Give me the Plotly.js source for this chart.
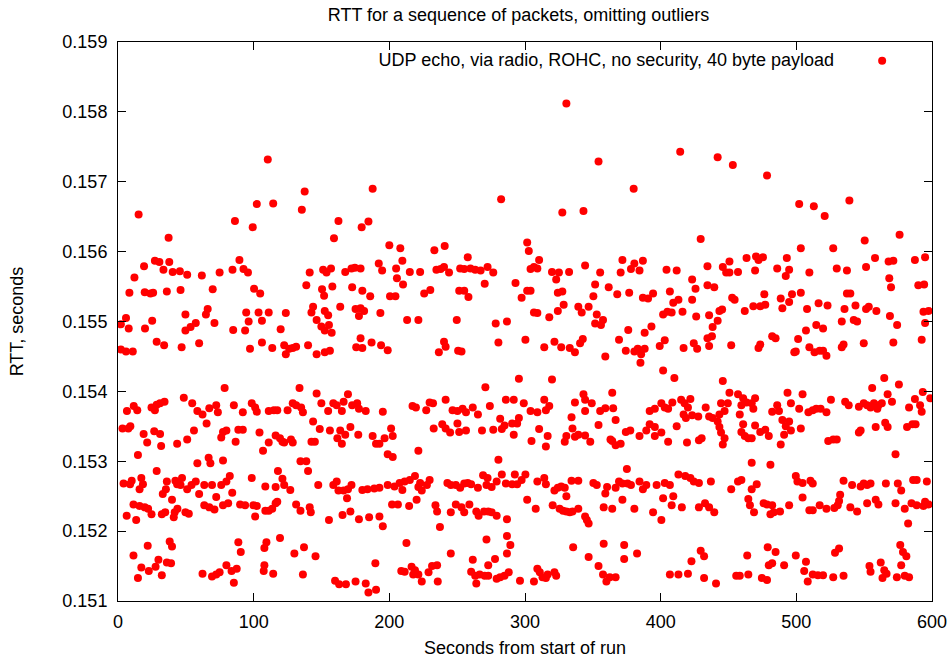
<!DOCTYPE html>
<html>
<head>
<meta charset="utf-8">
<script src="https://cdn.plot.ly/plotly-3.0.1.min.js"></script>
<style>
  html, body { margin: 0; padding: 0; background: #fff; }
  #chart { width: 952px; height: 660px; }
</style>
</head>
<body>
<div id="chart"></div>
<script>
// Chart text
const chartTitle = "RTT for a sequence of packets, omitting outliers";
const xTitle = "Seconds from start of run";
const yTitle = "RTT, seconds";
const seriesName = "UDP echo, via radio, ROHC, no security, 40 byte payload";
const xTicks = [0, 100, 200, 300, 400, 500, 600];
const yTicks = [0.151, 0.152, 0.153, 0.154, 0.155, 0.156, 0.157, 0.158, 0.159];

// Time of each packet (seconds from start of run)
const seconds = [
15.2,37.3,27.2,30.5,37.8,19.2,33.5,40.3,45.6,12.1,8.4,19.7,23.9,25.9,36.0,46.1,5.9,2.1,7.9,25.2,19.9,28.5,34.0,2.1,5.9,10.9,46.9,34.3,31.0,28.5,24.7,11.6,6.6,14.2,27.2,9.1,3.3,7.6,18.9,26.7,31.0,21.5,31.8,43.6,14.7,28.5,4.1,8.9,10.1,17.2,18.4,15.9,36.0,42.3,43.6,46.1,35.3,33.0,39.8,11.4,15.9,19.7,22.2,24.7,32.3,34.8,41.8,43.8,41.1,6.4,13.4,21.9,38.1,39.8,11.4,17.2,22.7,27.7,29.8,36.0,39.1,32.3,14.7,
86.2,89.5,84.4,92.5,95.8,51.0,61.8,74.9,69.8,49.7,64.8,66.1,71.1,94.5,96.3,49.7,53.5,57.3,59.8,84.9,93.7,78.6,48.5,54.7,58.5,62.3,67.3,72.4,73.6,85.4,92.0,65.3,56.0,51.0,77.4,79.9,76.1,88.7,92.0,86.7,66.8,77.4,47.2,51.0,54.2,57.3,58.5,59.8,63.6,68.1,69.3,72.4,76.1,79.9,82.4,84.2,63.6,67.3,71.1,77.4,81.2,90.0,93.7,49.7,52.2,88.7,90.5,62.3,69.3,72.4,74.9,79.9,83.7,87.5,85.4,
110.4,102.3,114.4,137.6,135.5,99.3,141.3,138.8,100.3,104.8,143.8,123.7,103.6,111.1,106.1,119.9,142.6,146.4,97.3,106.1,113.7,122.5,126.2,123.7,128.8,131.3,140.1,146.4,133.8,146.4,98.6,101.1,102.3,111.1,114.9,117.4,125.0,128.8,131.3,135.0,136.3,143.8,104.3,106.9,111.1,116.2,119.4,121.2,122.5,127.5,128.8,142.6,145.1,134.5,138.8,140.1,117.9,121.2,122.5,127.0,147.6,108.6,116.2,98.6,99.8,102.3,101.1,108.6,111.1,113.7,116.2,117.4,131.3,134.5,141.3,142.1,119.4,109.4,107.9,130.0,137.1,145.6,107.9,107.4,114.4,136.3,
187.7,162.5,179.6,184.6,159.2,151.2,153.7,157.0,167.5,172.1,174.6,178.8,192.2,194.7,150.4,151.9,158.0,172.6,180.1,185.9,152.4,154.9,163.8,175.1,178.8,181.4,177.6,193.4,149.9,152.4,155.5,157.5,178.8,175.6,180.1,186.9,193.9,152.4,156.2,149.9,154.9,158.7,161.2,165.0,166.3,169.5,172.6,176.3,177.6,182.6,195.2,148.7,156.2,163.8,161.7,165.0,167.5,171.3,177.1,187.7,190.2,192.7,196.5,158.7,161.2,162.5,166.3,169.5,172.1,168.8,171.3,180.1,183.9,188.9,192.7,155.5,165.5,177.6,185.1,192.7,195.2,189.7,160.0,163.0,168.0,175.1,182.6,184.6,190.2,
200.0,208.1,240.8,233.2,209.6,205.0,215.1,222.7,205.6,210.1,234.7,237.8,240.3,244.0,200.5,204.5,225.7,230.2,213.1,221.4,240.3,241.5,236.5,198.8,217.1,219.6,227.2,229.7,232.2,241.5,246.6,201.3,202.5,232.7,239.0,241.5,244.8,221.4,198.8,202.5,198.8,203.8,207.6,209.6,211.3,215.1,218.9,221.4,222.7,223.9,227.7,229.7,242.8,245.3,202.0,206.3,214.6,220.1,234.0,235.2,245.3,237.3,212.6,245.3,208.8,211.3,216.4,218.9,221.4,223.9,228.9,231.5,235.2,235.7,217.6,
282.4,257.8,252.2,255.2,259.8,263.3,267.3,272.4,276.6,270.3,293.0,297.5,251.5,255.2,258.3,249.7,278.4,286.7,280.4,250.7,253.2,295.5,270.8,285.9,291.7,250.2,254.0,256.5,261.5,265.3,274.1,250.2,251.5,256.5,268.3,276.6,281.7,282.9,284.9,290.5,291.7,294.2,295.5,280.4,269.1,272.4,271.6,275.4,279.1,282.9,285.9,292.5,290.5,294.2,297.5,249.0,252.2,255.2,257.8,260.3,265.3,249.0,253.2,255.2,259.0,264.1,265.8,269.8,272.9,275.4,279.1,286.7,271.6,286.7,289.2,286.7,277.9,272.9,261.5,260.3,263.3,264.1,266.6,270.3,272.9,279.1,281.7,284.9,288.0,296.3,
330.5,327.5,343.1,301.6,302.8,310.4,306.6,304.1,309.1,319.9,325.0,323.0,332.5,344.3,301.6,304.1,324.2,327.5,306.6,309.1,317.9,324.2,328.5,339.3,341.8,346.9,300.3,314.2,321.7,326.7,333.0,336.8,342.6,340.6,319.9,343.1,344.3,336.8,314.2,299.1,304.1,309.1,317.9,315.4,344.3,310.4,304.8,316.7,315.4,330.5,329.3,334.3,335.0,336.8,339.3,344.3,348.1,300.3,309.1,314.2,315.4,321.7,324.2,326.7,329.3,330.5,334.3,339.3,301.6,307.9,320.4,325.5,328.0,330.5,333.0,335.0,339.3,344.3,345.6,346.9,335.5,346.9,306.6,309.1,310.9,312.9,316.7,321.7,323.0,315.4,
354.2,380.1,371.8,380.6,384.4,386.9,378.1,370.5,355.4,351.7,350.4,361.7,368.0,376.8,386.9,390.7,394.4,352.9,351.7,356.0,357.5,376.1,393.2,388.2,369.3,374.3,380.6,383.1,385.6,388.2,385.1,359.2,364.3,349.2,355.4,359.2,365.0,366.8,354.2,391.9,395.7,377.6,374.3,384.4,389.4,391.9,395.7,395.7,363.0,364.3,366.8,370.5,375.1,350.4,352.9,359.2,360.5,366.8,369.3,371.8,375.6,378.1,384.4,386.9,389.4,397.0,358.0,364.3,371.8,380.6,394.4,358.0,373.1,373.1,382.6,354.2,357.5,360.0,362.5,366.8,
414.4,442.0,429.5,434.5,404.3,411.8,445.8,448.3,406.8,423.2,425.7,434.5,439.5,409.3,413.1,416.1,408.1,405.0,401.8,423.2,426.2,435.7,443.3,445.3,442.0,438.3,437.8,434.5,403.0,399.3,416.9,424.4,426.9,435.7,401.8,410.1,445.8,400.5,403.0,405.5,408.6,415.1,417.6,420.1,421.9,418.6,411.8,416.9,423.2,427.7,433.2,435.7,438.3,442.0,443.3,444.5,447.1,400.5,405.5,419.4,428.2,430.2,443.3,444.5,445.8,447.1,403.0,406.8,413.1,418.1,421.9,424.4,428.2,437.0,401.8,409.3,408.1,415.6,428.2,432.7,435.7,439.5,400.5,429.5,432.0,422.7,406.8,413.1,420.1,432.0,440.8,
453.2,478.4,450.7,463.3,470.3,472.1,475.4,493.0,450.7,457.0,469.6,485.9,494.7,492.2,452.7,454.5,462.0,468.3,473.4,476.4,477.1,488.5,494.7,496.8,489.7,452.0,473.4,472.1,482.2,484.7,498.5,450.7,449.5,457.0,460.8,459.5,463.3,467.1,469.6,468.3,493.5,496.0,485.9,487.2,482.2,458.3,469.6,460.8,459.5,462.0,464.6,467.1,473.4,477.1,479.7,489.7,494.7,492.2,496.0,491.0,488.5,467.1,480.9,452.0,457.0,459.5,467.1,470.8,464.6,465.8,468.8,475.9,478.4,482.2,483.4,480.9,488.0,494.7,463.8,478.9,484.7,482.2,479.7,491.0,455.7,458.3,464.6,474.6,478.4,
502.1,512.9,520.9,539.1,503.3,527.2,509.6,529.8,537.3,503.3,537.3,539.8,543.6,535.5,507.9,516.4,523.0,533.5,542.3,544.8,507.1,514.7,519.7,501.3,499.6,509.6,513.4,517.2,519.7,522.2,534.8,533.5,504.6,502.1,508.9,512.1,514.7,517.9,522.2,525.5,536.0,538.6,546.1,503.3,523.5,527.2,529.8,547.4,546.1,499.6,500.8,504.6,510.4,512.1,534.8,541.1,547.4,504.6,532.3,531.5,530.5,528.0,517.2,509.6,512.1,522.2,539.8,544.8,499.6,507.1,528.5,531.5,505.8,508.4,512.1,515.9,519.7,527.2,534.8,
576.1,550.4,558.0,551.4,568.0,571.5,587.4,594.9,568.5,569.8,589.9,594.2,551.4,553.4,559.0,569.0,574.3,593.7,594.9,597.5,571.5,592.4,549.7,564.8,555.9,575.6,567.3,593.2,587.4,598.7,549.7,552.2,554.7,557.2,560.5,563.0,570.5,583.1,591.2,592.4,559.7,565.5,558.5,567.3,581.6,585.6,587.9,573.1,549.7,552.2,554.7,566.0,574.8,577.3,586.1,588.7,596.2,558.5,560.5,552.2,573.1,579.9,584.9,588.7,593.7,597.5,594.9,582.4,576.6,578.6,581.1,562.2,553.9,554.7,564.8,563.5,566.5,574.1,577.3,579.9,583.1
];

// Round-trip time of each packet (seconds), same order as above
const rtt = [
0.15653,0.15620,0.15587,0.15585,0.15585,0.15579,0.15574,0.15571,0.15572,0.15563,0.15541,0.15542,0.15540,0.15541,0.15543,0.15545,0.15505,0.15496,0.15490,0.15501,0.15490,0.15471,0.15466,0.15460,0.15457,0.15457,0.15463,0.15385,0.15383,0.15381,0.15377,0.15379,0.15372,0.15373,0.15373,0.15350,0.15347,0.15347,0.15339,0.15343,0.15339,0.15327,0.15322,0.15325,0.15309,0.15286,0.15268,0.15267,0.15272,0.15276,0.15267,0.15260,0.15271,0.15272,0.15267,0.15266,0.15260,0.15253,0.15245,0.15238,0.15236,0.15234,0.15232,0.15224,0.15224,0.15227,0.15227,0.15232,0.15220,0.15222,0.15216,0.15179,0.15185,0.15178,0.15165,0.15148,0.15143,0.15149,0.15159,0.15155,0.15154,0.15137,0.15133,
0.15644,0.15588,0.15574,0.15575,0.15570,0.15567,0.15566,0.15570,0.15546,0.15510,0.15510,0.15518,0.15498,0.15513,0.15500,0.15487,0.15492,0.15498,0.15469,0.15488,0.15487,0.15405,0.15391,0.15383,0.15372,0.15367,0.15376,0.15380,0.15370,0.15380,0.15370,0.15354,0.15344,0.15331,0.15342,0.15344,0.15334,0.15345,0.15345,0.15328,0.15305,0.15301,0.15276,0.15260,0.15266,0.15271,0.15297,0.15253,0.15266,0.15297,0.15266,0.15249,0.15266,0.15271,0.15279,0.15255,0.15237,0.15234,0.15231,0.15237,0.15240,0.15238,0.15237,0.15227,0.15225,0.15184,0.15170,0.15139,0.15135,0.15138,0.15141,0.15151,0.15143,0.15146,0.15126,
0.15732,0.15668,0.15669,0.15686,0.15660,0.15635,0.15570,0.15552,0.15547,0.15540,0.15521,0.15512,0.15513,0.15513,0.15501,0.15489,0.15513,0.15502,0.15461,0.15470,0.15462,0.15466,0.15461,0.15453,0.15462,0.15464,0.15466,0.15453,0.15405,0.15397,0.15383,0.15377,0.15371,0.15372,0.15373,0.15373,0.15373,0.15383,0.15380,0.15377,0.15370,0.15357,0.15341,0.15315,0.15327,0.15337,0.15333,0.15328,0.15327,0.15331,0.15327,0.15328,0.15328,0.15300,0.15300,0.15286,0.15286,0.15275,0.15266,0.15259,0.15266,0.15264,0.15263,0.15276,0.15237,0.15236,0.15221,0.15229,0.15229,0.15232,0.15240,0.15242,0.15238,0.15229,0.15234,0.15227,0.15190,0.15184,0.15176,0.15168,0.15177,0.15164,0.15151,0.15143,0.15139,0.15138,
0.15690,0.15644,0.15635,0.15643,0.15619,0.15574,0.15570,0.15576,0.15571,0.15576,0.15577,0.15576,0.15583,0.15573,0.15546,0.15537,0.15550,0.15549,0.15544,0.15536,0.15515,0.15509,0.15521,0.15518,0.15519,0.15515,0.15508,0.15512,0.15493,0.15487,0.15495,0.15484,0.15476,0.15463,0.15462,0.15470,0.15466,0.15456,0.15458,0.15383,0.15372,0.15383,0.15380,0.15372,0.15385,0.15396,0.15380,0.15383,0.15375,0.15372,0.15371,0.15346,0.15344,0.15344,0.15333,0.15325,0.15338,0.15349,0.15338,0.15336,0.15325,0.15325,0.15333,0.15266,0.15271,0.15258,0.15258,0.15260,0.15266,0.15247,0.15228,0.15259,0.15260,0.15261,0.15262,0.15216,0.15223,0.15217,0.15220,0.15221,0.15207,0.15154,0.15129,0.15124,0.15124,0.15128,0.15125,0.15112,0.15116,
0.15609,0.15605,0.15608,0.15602,0.15587,0.15576,0.15571,0.15571,0.15562,0.15553,0.15574,0.15575,0.15578,0.15570,0.15536,0.15536,0.15540,0.15545,0.15502,0.15502,0.15471,0.15464,0.15456,0.15459,0.15379,0.15377,0.15373,0.15384,0.15383,0.15388,0.15373,0.15347,0.15336,0.15347,0.15353,0.15347,0.15341,0.15315,0.15310,0.15306,0.15266,0.15264,0.15269,0.15259,0.15271,0.15273,0.15279,0.15263,0.15269,0.15258,0.15266,0.15273,0.15269,0.15266,0.15238,0.15238,0.15236,0.15245,0.15237,0.15228,0.15227,0.15206,0.15183,0.15168,0.15143,0.15142,0.15149,0.15144,0.15138,0.15128,0.15141,0.15150,0.15151,0.15128,0.15138,
0.15675,0.15592,0.15576,0.15575,0.15576,0.15574,0.15573,0.15578,0.15570,0.15554,0.15555,0.15534,0.15544,0.15544,0.15535,0.15502,0.15497,0.15500,0.15470,0.15458,0.15457,0.15418,0.15406,0.15388,0.15388,0.15372,0.15375,0.15370,0.15377,0.15367,0.15379,0.15354,0.15342,0.15344,0.15344,0.15345,0.15361,0.15346,0.15351,0.15354,0.15338,0.15354,0.15362,0.15302,0.15280,0.15276,0.15266,0.15263,0.15271,0.15281,0.15268,0.15281,0.15267,0.15267,0.15273,0.15266,0.15262,0.15268,0.15269,0.15267,0.15262,0.15238,0.15234,0.15227,0.15238,0.15228,0.15222,0.15228,0.15228,0.15227,0.15222,0.15217,0.15188,0.15193,0.15180,0.15168,0.15160,0.15151,0.15159,0.15142,0.15136,0.15125,0.15138,0.15136,0.15136,0.15132,0.15134,0.15136,0.15141,0.15129,
0.15812,0.15656,0.15658,0.15613,0.15601,0.15588,0.15578,0.15575,0.15576,0.15571,0.15570,0.15560,0.15571,0.15580,0.15544,0.15544,0.15541,0.15543,0.15513,0.15512,0.15506,0.15515,0.15524,0.15521,0.15513,0.15521,0.15474,0.15463,0.15471,0.15463,0.15462,0.15456,0.15475,0.15469,0.15417,0.15396,0.15388,0.15384,0.15388,0.15383,0.15372,0.15370,0.15379,0.15373,0.15372,0.15346,0.15329,0.15336,0.15321,0.15336,0.15328,0.15363,0.15347,0.15335,0.15338,0.15337,0.15328,0.15281,0.15271,0.15276,0.15267,0.15258,0.15262,0.15264,0.15262,0.15250,0.15272,0.15272,0.15245,0.15232,0.15237,0.15232,0.15229,0.15228,0.15227,0.15228,0.15232,0.15221,0.15216,0.15211,0.15177,0.15163,0.15128,0.15146,0.15141,0.15134,0.15138,0.15141,0.15136,0.15133,
0.15729,0.15690,0.15588,0.15583,0.15573,0.15587,0.15575,0.15570,0.15570,0.15553,0.15536,0.15549,0.15539,0.15541,0.15534,0.15533,0.15540,0.15510,0.15497,0.15495,0.15502,0.15488,0.15493,0.15484,0.15474,0.15458,0.15457,0.15461,0.15453,0.15461,0.15441,0.15450,0.15398,0.15383,0.15372,0.15376,0.15376,0.15359,0.15352,0.15372,0.15375,0.15344,0.15342,0.15336,0.15344,0.15353,0.15349,0.15336,0.15331,0.15329,0.15323,0.15325,0.15289,0.15269,0.15266,0.15254,0.15263,0.15262,0.15271,0.15268,0.15268,0.15266,0.15271,0.15260,0.15266,0.15266,0.15234,0.15232,0.15245,0.15232,0.15227,0.15182,0.15180,0.15160,0.15168,0.15150,0.15138,0.15128,0.15134,0.15134,
0.15743,0.15735,0.15618,0.15579,0.15574,0.15573,0.15578,0.15570,0.15543,0.15560,0.15547,0.15552,0.15549,0.15527,0.15531,0.15514,0.15513,0.15514,0.15510,0.15531,0.15507,0.15509,0.15515,0.15517,0.15501,0.15492,0.15479,0.15476,0.15473,0.15465,0.15462,0.15469,0.15461,0.15465,0.15430,0.15419,0.15415,0.15383,0.15377,0.15375,0.15384,0.15388,0.15383,0.15377,0.15389,0.15362,0.15350,0.15367,0.15366,0.15364,0.15377,0.15364,0.15362,0.15357,0.15367,0.15383,0.15372,0.15341,0.15328,0.15327,0.15330,0.15333,0.15349,0.15341,0.15324,0.15333,0.15269,0.15266,0.15281,0.15279,0.15276,0.15271,0.15269,0.15271,0.15247,0.15250,0.15237,0.15234,0.15234,0.15240,0.15234,0.15227,0.15216,0.15172,0.15164,0.15157,0.15138,0.15138,0.15139,0.15133,0.15125,
0.15724,0.15709,0.15586,0.15591,0.15593,0.15588,0.15592,0.15591,0.15570,0.15571,0.15573,0.15576,0.15574,0.15565,0.15534,0.15531,0.15515,0.15522,0.15522,0.15539,0.15524,0.15533,0.15528,0.15539,0.15519,0.15466,0.15467,0.15462,0.15479,0.15476,0.15456,0.15398,0.15383,0.15396,0.15390,0.15380,0.15384,0.15383,0.15390,0.15375,0.15398,0.15383,0.15380,0.15372,0.15371,0.15367,0.15351,0.15353,0.15342,0.15336,0.15333,0.15333,0.15342,0.15345,0.15336,0.15359,0.15357,0.15350,0.15344,0.15338,0.15324,0.15298,0.15295,0.15260,0.15271,0.15273,0.15260,0.15267,0.15246,0.15237,0.15227,0.15240,0.15238,0.15237,0.15227,0.15224,0.15228,0.15237,0.15165,0.15177,0.15170,0.15154,0.15151,0.15151,0.15136,0.15136,0.15138,0.15133,0.15130,
0.15668,0.15665,0.15651,0.15673,0.15605,0.15605,0.15570,0.15576,0.15573,0.15541,0.15540,0.15540,0.15523,0.15518,0.15518,0.15526,0.15523,0.15500,0.15502,0.15500,0.15487,0.15495,0.15490,0.15475,0.15457,0.15463,0.15456,0.15458,0.15458,0.15451,0.15467,0.15463,0.15396,0.15375,0.15370,0.15373,0.15375,0.15375,0.15370,0.15388,0.15385,0.15380,0.15378,0.15347,0.15329,0.15331,0.15331,0.15344,0.15341,0.15279,0.15271,0.15269,0.15272,0.15268,0.15272,0.15266,0.15264,0.15248,0.15252,0.15243,0.15237,0.15233,0.15237,0.15230,0.15230,0.15232,0.15234,0.15228,0.15165,0.15156,0.15169,0.15175,0.15143,0.15128,0.15138,0.15137,0.15137,0.15134,0.15136,
0.15624,0.15616,0.15591,0.15578,0.15586,0.15587,0.15588,0.15592,0.15562,0.15549,0.15552,0.15553,0.15518,0.15521,0.15515,0.15508,0.15495,0.15514,0.15498,0.15515,0.15470,0.15474,0.15469,0.15419,0.15405,0.15410,0.15396,0.15399,0.15389,0.15390,0.15383,0.15380,0.15377,0.15383,0.15380,0.15383,0.15385,0.15377,0.15380,0.15371,0.15375,0.15355,0.15349,0.15349,0.15349,0.15353,0.15353,0.15310,0.15268,0.15266,0.15268,0.15268,0.15268,0.15258,0.15273,0.15273,0.15271,0.15245,0.15238,0.15240,0.15240,0.15232,0.15240,0.15237,0.15236,0.15238,0.15242,0.15211,0.15180,0.15170,0.15164,0.15155,0.15150,0.15142,0.15144,0.15133,0.15139,0.15134,0.15151,0.15136,0.15134
];

if (seconds.length !== rtt.length) {
  console.warn("length mismatch", seconds.length, rtt.length);
}

const FONT = "Liberation Sans, Arial, Helvetica, sans-serif";

const trace = {
  type: "scatter",
  mode: "markers",
  x: seconds,
  y: rtt,
  name: "",
  marker: { color: "#ff0000", size: 8, line: { width: 0 } },
  hoverinfo: "x+y",
  showlegend: true
};

const axisCommon = {
  showline: true,
  linecolor: "#000000",
  linewidth: 1,
  mirror: "ticks",
  ticks: "inside",
  ticklen: 8,
  tickwidth: 1,
  tickcolor: "#000000",
  showgrid: false,
  zeroline: false,
  tickfont: { family: FONT, size: 18, color: "#000000" }
};

const layout = {
  width: 952,
  height: 660,
  paper_bgcolor: "#ffffff",
  plot_bgcolor: "#ffffff",
  margin: { l: 118, r: 20, t: 42, b: 59 },
  font: { family: FONT, size: 18, color: "#000000" },
  title: {
    text: chartTitle,
    font: { family: FONT, size: 18, color: "#000000" },
    x: 0.492, xref: "paper", xanchor: "center",
    y: 0.977, yref: "container", yanchor: "middle"
  },
  xaxis: Object.assign({}, axisCommon, {
    range: [0, 600],
    tickmode: "array",
    tickvals: xTicks,
    ticktext: xTicks.map(String),
    ticklabelstandoff: 4,
    title: { text: xTitle, font: { family: FONT, size: 18, color: "#000000" }, standoff: 10 }
  }),
  yaxis: Object.assign({}, axisCommon, {
    range: [0.151, 0.159],
    tickmode: "array",
    tickvals: yTicks,
    ticktext: yTicks.map(v => v.toFixed(3)),
    ticklabelstandoff: 6,
    title: { text: yTitle, font: { family: FONT, size: 18, color: "#000000" }, standoff: 34 }
  }),
  showlegend: true,
  legend: {
    x: 0.970, xanchor: "right",
    y: 0.999, yanchor: "top",
    bgcolor: "rgba(0,0,0,0)",
    borderwidth: 0,
    font: { family: FONT, size: 18, color: "#000000" },
    title: { text: seriesName + "&nbsp;&nbsp;&nbsp;&nbsp;", side: "left", font: { family: FONT, size: 18, color: "#000000" } },
    itemwidth: 30
  }
};

Plotly.newPlot("chart", [trace], layout, { displayModeBar: false, staticPlot: true });
</script>
</body>
</html>
